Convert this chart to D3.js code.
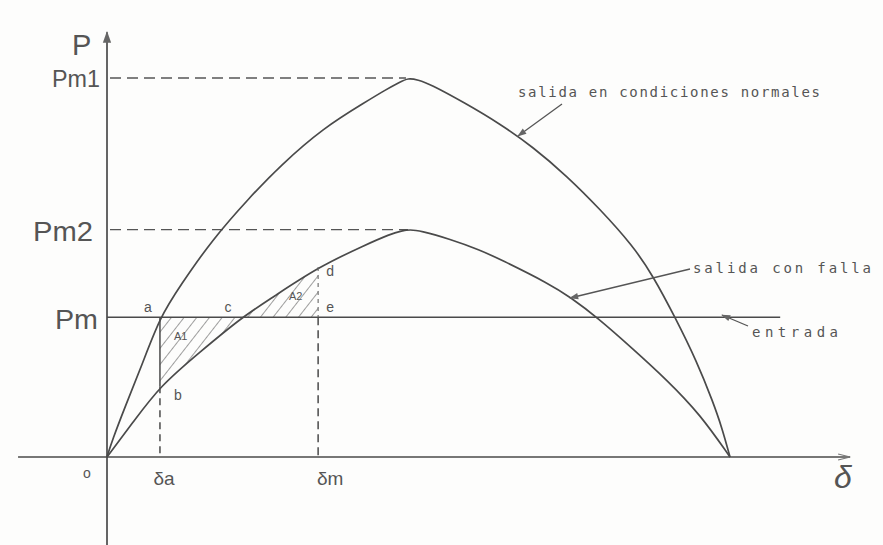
<!DOCTYPE html>
<html>
<head>
<meta charset="utf-8">
<script src="https://cdn.jsdelivr.net/npm/d3@7"></script>
<style>
  html, body { margin: 0; padding: 0; background: #fdfdfc; }
  svg { display: block; }
  .lbl { font-family: "Liberation Sans", "DejaVu Sans", sans-serif; fill: #555; }
  .note { font-family: "DejaVu Sans Mono", "Liberation Mono", monospace; fill: #555; }
</style>
</head>
<body>
<svg id="chart" width="883" height="545"></svg>
<script>
// Power–angle curves: normal operation, faulted, and mechanical input
const deltaOuter = [0, 1.44, 5.20, 10.11, 15.3, 21.09, 30.34, 41.32, 49.99, 62.41, 75.12, 80.32, 84.65, 86.96, 89.85, 93.32, 103.43, 113.55, 123.08, 132.91, 142.44, 151.98, 157.75, 164.11, 170.47, 175.09, 177.69, 180];
const pOuter     = [0, 0.042, 0.132, 0.243, 0.369, 0.451, 0.573, 0.686, 0.768, 0.868, 0.939, 0.968, 0.989, 1.0, 0.995, 0.984, 0.934, 0.879, 0.818, 0.741, 0.654, 0.557, 0.478, 0.369, 0.251, 0.145, 0.077, 0];

const deltaInner = [0, 7.80, 15.3, 26.87, 39.0, 47.67, 61.0, 74.54, 81.77, 85.23, 87.54, 90.43, 99.10, 107.77, 113.55, 128.0, 133.78, 141.57, 151.98, 161.80, 171.34, 180];
const pInner     = [0, 0.095, 0.187, 0.277, 0.369, 0.420, 0.501, 0.559, 0.588, 0.597, 0.600, 0.597, 0.575, 0.546, 0.522, 0.456, 0.422, 0.369, 0.285, 0.203, 0.113, 0];

// Power levels marked on the P axis
const levelNames  = ["Pm1", "Pm2", "Pm"];
const levelValues = [1.0, 0.600, 0.369];
const levelPeakDelta = [86.96, 87.54];

// Angles marked on the δ axis
const angleNames  = ["δa", "δm"];
const angleValues = [15.3, 61.0];
const crossDelta  = 39.0;   // point c: faulted curve meets the input line

const axisDelta = [-25.7, 214.7];
const axisP     = [-0.232, 1.121];
const inputEnd  = 194.5;

const svg = d3.select("#chart");
const x = d3.scaleLinear().domain([0, 180]).range([107, 730]);
const y = d3.scaleLinear().domain([0, 1]).range([457, 78]);

const ink = "#4a4a4a";
const outer = deltaOuter.map((d, i) => ({ d, p: pOuter[i] }));
const inner = deltaInner.map((d, i) => ({ d, p: pInner[i] }));
const Pm = levelValues[2];
const [da, dm] = angleValues;

const defs = svg.append("defs");
defs.append("pattern")
  .attr("id", "hatch").attr("patternUnits", "userSpaceOnUse")
  .attr("width", 10).attr("height", 10)
  .attr("patternTransform", "rotate(38)")
  .append("line")
  .attr("x1", 0).attr("y1", 0).attr("x2", 0).attr("y2", 10)
  .attr("stroke", "#5e5e5e").attr("stroke-width", 1.2);
defs.append("clipPath").attr("id", "areaClip")
  .append("rect")
  .attr("x", x(da)).attr("y", 0)
  .attr("width", x(dm) - x(da)).attr("height", 545);
defs.append("marker")
  .attr("id", "arr").attr("viewBox", "0 0 10 10")
  .attr("refX", 9).attr("refY", 5)
  .attr("markerWidth", 9).attr("markerHeight", 7)
  .attr("orient", "auto-start-reverse")
  .append("path").attr("d", "M0,1.5 L10,5 L0,8.5 Z").attr("fill", "#666");

// smooth B-spline through the hand-read points
const curve = d3.curveBasis;

// hatched areas A1 and A2 between the faulted curve and the input line
const hatch = d3.area()
  .x(v => x(v.d)).y0(y(Pm)).y1(v => y(v.p))
  .curve(curve);
svg.append("path")
  .attr("d", hatch(inner))
  .attr("fill", "url(#hatch)")
  .attr("clip-path", "url(#areaClip)");

// axes
svg.append("line")
  .attr("x1", x(axisDelta[0])).attr("x2", x(axisDelta[1]))
  .attr("y1", y(0)).attr("y2", y(0))
  .attr("stroke", ink).attr("stroke-width", 1.7);
svg.append("line")
  .attr("x1", x(0)).attr("x2", x(0))
  .attr("y1", y(axisP[0])).attr("y2", y(axisP[1]))
  .attr("stroke", ink).attr("stroke-width", 1.7)
  .attr("marker-end", "url(#arr)");
svg.append("path")
  .attr("d", `M${x(axisDelta[1]) - 12},${y(0) - 3} L${x(axisDelta[1])},${y(0)} L${x(axisDelta[1]) - 12},${y(0) + 3}`)
  .attr("fill", "none").attr("stroke", "#777").attr("stroke-width", 1.2);

// dashed guides for the maximum powers
levelValues.slice(0, 2).forEach((v, i) => {
  svg.append("line")
    .attr("x1", x(0) + 3).attr("x2", x(levelPeakDelta[i]) - 2)
    .attr("y1", y(v)).attr("y2", y(v))
    .attr("stroke", "#555").attr("stroke-width", 1.4)
    .attr("stroke-dasharray", "11,6");
});

// input line (entrada)
svg.append("line")
  .attr("x1", x(0)).attr("x2", x(inputEnd))
  .attr("y1", y(Pm)).attr("y2", y(Pm))
  .attr("stroke", ink).attr("stroke-width", 1.5);

// curves
const line = d3.line().x(v => x(v.d)).y(v => y(v.p)).curve(curve);
svg.append("path").attr("d", line(outer))
  .attr("fill", "none").attr("stroke", ink).attr("stroke-width", 1.7);
svg.append("path").attr("d", line(inner))
  .attr("fill", "none").attr("stroke", ink).attr("stroke-width", 1.7);

// vertical lines at δa and δm
const pB = pInner[deltaInner.indexOf(da)];
const pD = pInner[deltaInner.indexOf(dm)];
svg.append("line")
  .attr("x1", x(da)).attr("x2", x(da)).attr("y1", y(Pm)).attr("y2", y(pB))
  .attr("stroke", ink).attr("stroke-width", 1.5);
svg.append("line")
  .attr("x1", x(da)).attr("x2", x(da)).attr("y1", y(pB)).attr("y2", y(0))
  .attr("stroke", ink).attr("stroke-width", 1.5).attr("stroke-dasharray", "7,5");
svg.append("line")
  .attr("x1", x(dm)).attr("x2", x(dm)).attr("y1", y(pD)).attr("y2", y(Pm))
  .attr("stroke", "#666").attr("stroke-width", 1.1).attr("stroke-dasharray", "4,4");
svg.append("line")
  .attr("x1", x(dm)).attr("x2", x(dm)).attr("y1", y(Pm)).attr("y2", y(0))
  .attr("stroke", ink).attr("stroke-width", 1.5).attr("stroke-dasharray", "8,5");

// axis labels
svg.append("text").attr("class", "lbl").attr("x", 72).attr("y", 55)
  .attr("font-size", 29).text("P");
svg.append("text").attr("class", "lbl").attr("x", 52).attr("y", y(levelValues[0]) + 9)
  .attr("font-size", 23).attr("textLength", 48).attr("lengthAdjust", "spacingAndGlyphs").text(levelNames[0]);
svg.append("text").attr("class", "lbl").attr("x", 33).attr("y", y(levelValues[1]) + 11)
  .attr("font-size", 28).attr("textLength", 60).attr("lengthAdjust", "spacingAndGlyphs").text(levelNames[1]);
svg.append("text").attr("class", "lbl").attr("x", 55).attr("y", y(levelValues[2]) + 12)
  .attr("font-size", 28).attr("textLength", 43).attr("lengthAdjust", "spacingAndGlyphs").text(levelNames[2]);

svg.append("text").attr("class", "lbl").attr("x", 83).attr("y", 478).attr("font-size", 14).text("o");
angleNames.forEach((n, i) => {
  svg.append("text").attr("class", "lbl")
    .attr("x", x(angleValues[i]) + (i === 0 ? 4 : 12)).attr("y", 485)
    .attr("text-anchor", "middle").attr("font-size", 19).text(n);
});
svg.append("text").attr("class", "lbl").attr("x", 834).attr("y", 488)
  .attr("font-size", 32).attr("font-style", "italic").text("δ");

// point letters
const pt = (t, px, py) => svg.append("text").attr("class", "lbl")
  .attr("x", px).attr("y", py).attr("font-size", 14).attr("text-anchor", "middle").text(t);
pt("a", x(da) - 12, y(Pm) - 5);
pt("b", x(da) + 18, y(pB) + 14);
pt("c", x(crossDelta) - 14, y(Pm) - 5);
pt("d", x(dm) + 12, y(pD) + 9);
pt("e", x(dm) + 12, y(Pm) - 5);

// area labels
svg.append("text").attr("class", "lbl").attr("x", 174).attr("y", 340)
  .attr("font-size", 11).attr("fill", "#777").text("A1");
svg.append("text").attr("class", "lbl").attr("x", 289).attr("y", 300)
  .attr("font-size", 11).attr("fill", "#777").text("A2");

// annotations
const note = (t, px, py, len) => svg.append("text").attr("class", "note")
  .attr("x", px).attr("y", py).attr("font-size", 14)
  .attr("textLength", len).attr("lengthAdjust", "spacing").text(t);
note("salida en condiciones normales", 518, 97, 302);
note("salida con falla", 693, 273, 178);
note("entrada", 752, 337, 86);

const leader = (x1, y1, x2, y2) => svg.append("line")
  .attr("x1", x1).attr("y1", y1).attr("x2", x2).attr("y2", y2)
  .attr("stroke", "#555").attr("stroke-width", 1.3)
  .attr("marker-end", "url(#arr)");
leader(562, 104, 518, 136);
leader(690, 269, 570, 298);
leader(748, 326, 722, 315);
</script>
</body>
</html>
